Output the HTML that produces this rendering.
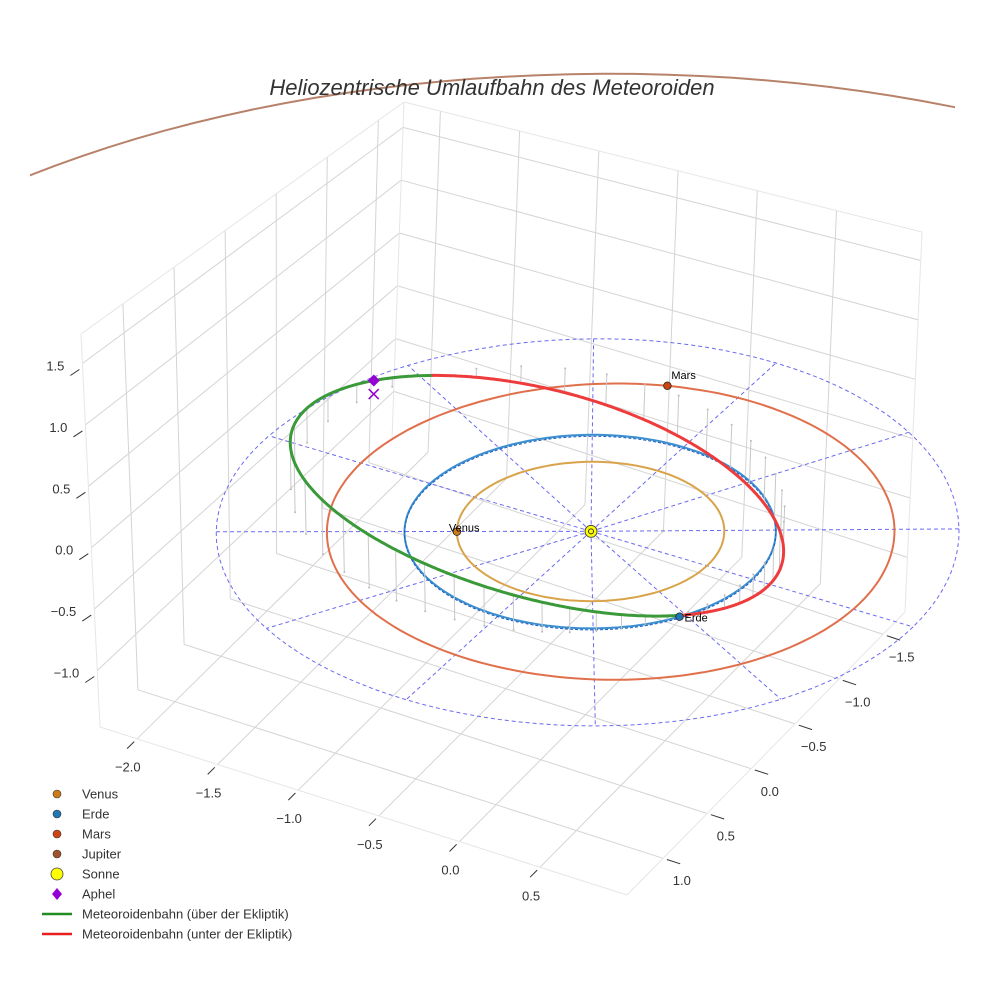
<!DOCTYPE html>
<html><head><meta charset="utf-8">
<style>
html,body{margin:0;padding:0;background:#fff;overflow:hidden;}
svg{display:block;font-family:"Liberation Sans",sans-serif;}
</style></head>
<body>
<svg id="chart" width="984" height="984" viewBox="0 0 984 984" xmlns="http://www.w3.org/2000/svg">
<defs><clipPath id="jclip"><rect x="30" y="0" width="925" height="300"/></clipPath></defs>
<g id="grid"></g>
<g id="orbits"></g>
<g id="marks"></g>
<text x="492" y="95" text-anchor="middle" font-size="22" font-style="italic" fill="#333">Heliozentrische Umlaufbahn des Meteoroiden</text>
<g id="legend"></g>
</svg>
<script>
// ---- data ----
const xTicks = [-2.0, -1.5, -1.0, -0.5, 0.0, 0.5];
const yTicks = [1.0, 0.5, 0.0, -0.5, -1.0, -1.5];
const zTicks = [1.5, 1.0, 0.5, 0.0, -0.5, -1.0];
const planetNames = ["Venus", "Erde", "Mars", "Jupiter"];
const planetRadii = [0.72, 1.0, 1.53, 5.2];
const planetAngles = [150, 32, 251, 100];
const orbitCenterX = [0, 0, 0.10, 0];
const orbitCenterY = [0, 0, -0.06, 0];
const planetColors = ["#cc7a1a", "#1f77b4", "#cc4411", "#a0522d"];
const orbitColors = ["#d9a34a", "#3a8fd0", "#e0704c", "#b8826a"];
const meteorA = [1.42];
const meteorE = [0.31];
const meteorIncl = [18];
const meteorNode = [32];
const meteorPeri = [-12];
const refRings = [2.0];
const refSpokes = [0, 30, 60, 90, 120, 150, 180, 210, 240, 270, 300, 330];

// ---- axis / projection ----
const X0=-2.23, X1=1.04, Y0=-1.75, Y1=1.41, Z0=-1.46, Z1=1.74;
const B=[392,440], L=[100,727], R=[905,612], F=[627,895];
const TB=[404,102], TL=[81,334], TR=[922,232], TF=[627,482];
function lerp(a,b,t){return [a[0]+(b[0]-a[0])*t, a[1]+(b[1]-a[1])*t];}
function P(x,y,z){
  const fx=(x-X0)/(X1-X0), fy=(y-Y0)/(Y1-Y0), fz=(z-Z0)/(Z1-Z0);
  const fl=lerp(lerp(B,R,fx), lerp(L,F,fx), fy);
  const tp=lerp(lerp(TB,TR,fx), lerp(TL,TF,fx), fy);
  return lerp(fl,tp,fz);
}
function Q(x,y,z){const p=P(x,y,z); return [p[0]+4, p[1]-6];}
const S=Q(0,0,0), EX=Q(1,0,0), EY=Q(0,1,0);
function Pfar(x,y){
  const ox=x*(EX[0]-S[0])+y*(EY[0]-S[0]);
  const oy=x*(EX[1]-S[1])+y*(EY[1]-S[1]);
  return [S[0]+14+ox*0.967, S[1]+14+oy*0.937];
}
const NS="http://www.w3.org/2000/svg";
function el(tag, attrs, parent){
  const e=document.createElementNS(NS,tag);
  for(const k in attrs) e.setAttribute(k, attrs[k]);
  parent.appendChild(e); return e;
}
function line(p,q,stroke,w,parent,dash){
  const a={x1:p[0].toFixed(1),y1:p[1].toFixed(1),x2:q[0].toFixed(1),y2:q[1].toFixed(1),stroke:stroke,'stroke-width':w};
  if(dash) a['stroke-dasharray']=dash;
  return el('line',a,parent);
}
const grid=document.getElementById('grid');
const GC="#d4d4d4";
xTicks.forEach(v=>{const l=line(P(v,Y0,Z0),P(v,Y1,Z0),GC,1,grid);

});
yTicks.forEach(v=>{const l=line(P(X0,v,Z0),P(X1,v,Z0),GC,1,grid);

});
yTicks.forEach(v=>{const l=line(P(X0,v,Z0),P(X0,v,Z1),GC,1,grid);

});
zTicks.forEach(v=>{const l=line(P(X0,Y0,v),P(X0,Y1,v),GC,1,grid);

});
xTicks.forEach(v=>{const l=line(P(v,Y0,Z0),P(v,Y0,Z1),GC,1,grid);

});
zTicks.forEach(v=>{const l=line(P(X0,Y0,v),P(X1,Y0,v),GC,1,grid);

});
[[P(X0,Y1,Z0),P(X1,Y1,Z0)],[P(X1,Y1,Z0),P(X1,Y0,Z0)],[P(X0,Y1,Z0),P(X0,Y1,Z1)],[P(X1,Y0,Z0),P(X1,Y0,Z1)],
 [P(X0,Y1,Z1),P(X0,Y0,Z1)],[P(X0,Y0,Z1),P(X1,Y0,Z1)],[P(X0,Y0,Z0),P(X0,Y0,Z1)]].forEach(e=>{
 const l=line(e[0],e[1],"#e6e6e6",1,grid);
 
 });
function tickLabel(txt,p,parent,anchor){
  const t=el('text',{x:p[0].toFixed(1),y:p[1].toFixed(1),'font-size':13,fill:'#333','text-anchor':anchor||'middle'},parent);
  t.textContent=txt; return t;
}
xTicks.forEach(v=>{
  const a=P(v,Y1,Z0), d=[a[0]-P(v,Y0,Z0)[0], a[1]-P(v,Y0,Z0)[1]];
  const n=Math.hypot(d[0],d[1]); const u=[d[0]/n,d[1]/n];
  const l=line([a[0]+u[0]*4,a[1]+u[1]*4],[a[0]+u[0]*14,a[1]+u[1]*14],"#333",1,grid);
  
  
  const t=tickLabel(v.toFixed(1).replace('-','−'),[a[0]+u[0]*34+15,a[1]+u[1]*34+9],grid);
  
  
});
yTicks.forEach(v=>{
  const a=P(X1,v,Z0), b=P(X0,v,Z0); const d=[a[0]-b[0],a[1]-b[1]];
  const n=Math.hypot(d[0],d[1]); const u=[d[0]/n,d[1]/n];
  const l=line([a[0]+u[0]*4,a[1]+u[1]*4],[a[0]+u[0]*18,a[1]+u[1]*18],"#333",1,grid);
  
  
  const t=tickLabel(v.toFixed(1).replace('-','−'),[a[0]+u[0]*26-6,a[1]+u[1]*26+19],grid);
  
  
});
zTicks.forEach(v=>{
  const a=P(X0,Y1,v);
  const l=line([a[0]-3,a[1]+6],[a[0]-12,a[1]+12],"#333",1,grid);
  
  
  const t=tickLabel(v.toFixed(1).replace('-','−'),[a[0]-18,a[1]+7],grid,'end');
  
  
});

// ---- orbits ----
const orb=document.getElementById('orbits');
function pathFrom(pts){return pts.map((p,i)=>(i?'L':'M')+p[0].toFixed(1)+' '+p[1].toFixed(1)).join(' ');}
refRings.forEach(r=>{
  const pts=[];for(let k=0;k<=360;k+=3){const a=k*Math.PI/180;pts.push(Q(r*Math.cos(a),r*Math.sin(a),0));}
  const p=el('path',{d:pathFrom(pts),fill:'none',stroke:'#6a6af0','stroke-width':1,'stroke-dasharray':'4,3'},orb);
  
  
  refSpokes.forEach(ang=>{
    const a=ang*Math.PI/180;
    const l=line(Q(0,0,0),Q(r*Math.cos(a),r*Math.sin(a),0),'#6a6af0',1,orb,'4,3');
    
    
  });
});
function drawOrbit(pts,i){
  if(pts.length<2) return;
  const p=el('path',{d:pathFrom(pts),fill:'none',stroke:orbitColors[i],'stroke-width':2},orb);
  
  
  if(i===3) p.setAttribute('clip-path','url(#jclip)');
  if(i===1){
    const p2=el('path',{d:pathFrom(pts),fill:'none',stroke:'#1f5fc0','stroke-width':1,'stroke-dasharray':'3,2',transform:'translate(0,1.5)'},orb);
    
    
  }
}
planetRadii.forEach((r,i)=>{
  const pts=[];
  for(let k=0;k<=360;k+=2){const a=k*Math.PI/180;
    const px=orbitCenterX[i]+r*Math.cos(a), py=orbitCenterY[i]+r*Math.sin(a);
    if(i===3){const q=Pfar(px,py); if(q[1]<300) pts.push(q); else if(pts.length){ drawOrbit(pts.slice(),i); pts.length=0; } }
    else pts.push(Q(px,py,0));}
  drawOrbit(pts,i);
});
const D=Math.PI/180;
function meteor(nu){
  const a=meteorA[0],e=meteorE[0],inc=meteorIncl[0]*D,Om=meteorNode[0]*D,w=meteorPeri[0]*D;
  const r=a*(1-e*e)/(1+e*Math.cos(nu)); const u=w+nu;
  return [r*(Math.cos(Om)*Math.cos(u)-Math.sin(Om)*Math.sin(u)*Math.cos(inc)),
          r*(Math.sin(Om)*Math.cos(u)+Math.cos(Om)*Math.sin(u)*Math.cos(inc)),
          r*Math.sin(u)*Math.sin(inc)];
}
for(let k=0;k<360;k+=8){
  const q=meteor(k*D); const a=Q(q[0],q[1],q[2]), b=Q(q[0],q[1],0);
  const l=line(a,b,'#c8c8c8',1,orb);
  
  
  const c=el('circle',{cx:b[0].toFixed(1),cy:b[1].toFixed(1),r:1,fill:'#bbb'},orb);
  
  
}
let segs=[],cur=null,curUp=null;
for(let k=0;k<=720;k++){
  const q=meteor(k*0.5*D); const up=q[2]>=0; const p=Q(q[0],q[1],q[2]);
  if(up!==curUp){ if(cur) cur.pts.push(p); cur={up:up,pts:[p]}; segs.push(cur); curUp=up; }
  else cur.pts.push(p);
}
segs.forEach(s=>{
  const p=el('path',{d:pathFrom(s.pts),fill:'none',stroke:s.up?'#3a9a3a':'#ee3b3b','stroke-width':3,'stroke-linecap':'round'},orb);
  
  
});

// ---- markers ----
const mk=document.getElementById('marks');
planetNames.forEach((n,i)=>{
  if(i===3) return;
  const a=planetAngles[i]*D;
  const p=Q(orbitCenterX[i]+planetRadii[i]*Math.cos(a),orbitCenterY[i]+planetRadii[i]*Math.sin(a),0);
  const c=el('circle',{cx:p[0].toFixed(1),cy:p[1].toFixed(1),r:3.8,fill:planetColors[i],stroke:'#222','stroke-width':0.8},mk);
  
  
  const off = i===2?[4,-7]:(i===1?[5,5]:[-8,0]);
  const t=el('text',{x:(p[0]+off[0]).toFixed(1),y:(p[1]+off[1]).toFixed(1),'font-size':11,fill:'#000'},mk);
  t.textContent=n;
  
  
});
const sun=el('circle',{cx:S[0],cy:S[1],r:6,fill:'#ffff00',stroke:'#444','stroke-width':1},mk);


const sun2=el('circle',{cx:S[0],cy:S[1],r:2.5,fill:'none',stroke:'#333','stroke-width':1},mk);


const aq=meteor(Math.PI); const ap=Q(aq[0],aq[1],aq[2]); const ap0=Q(aq[0],aq[1],0);
const dia=el('path',{d:`M${ap[0]} ${ap[1]-6}L${ap[0]+6} ${ap[1]}L${ap[0]} ${ap[1]+6}L${ap[0]-6} ${ap[1]}Z`,fill:'#9400d3'},mk);


const xm=el('path',{d:`M${ap0[0]-5} ${ap0[1]-5}L${ap0[0]+5} ${ap0[1]+5}M${ap0[0]+5} ${ap0[1]-5}L${ap0[0]-5} ${ap0[1]+5}`,stroke:'#9400d3','stroke-width':1.5},mk);



// ---- legend ----
const lg=document.getElementById('legend');
const legendItems=[["Venus","#cc7a1a","dot"],["Erde","#1f77b4","dot"],["Mars","#cc4411","dot"],["Jupiter","#a0522d","dot"],
 ["Sonne","#ffff00","sun"],["Aphel","#9400d3","dia"],["Meteoroidenbahn (über der Ekliptik)","#228b22","line"],["Meteoroidenbahn (unter der Ekliptik)","#e82020","line"]];
legendItems.forEach((it,i)=>{
  const y=794+i*20;
  const g=el('g',{},lg);
  
  
  if(it[2]==='dot') el('circle',{cx:57,cy:y,r:4,fill:it[1],stroke:'#333','stroke-width':0.6},g);
  else if(it[2]==='sun') el('circle',{cx:57,cy:y,r:6,fill:it[1],stroke:'#444','stroke-width':0.8},g);
  else if(it[2]==='dia') el('path',{d:`M57 ${y-6}L62 ${y}L57 ${y+6}L52 ${y}Z`,fill:it[1]},g);
  else el('line',{x1:42,y1:y,x2:72,y2:y,stroke:it[1],'stroke-width':2.5},g);
  const t=el('text',{x:82,y:y+4.5,'font-size':13,fill:'#333'},g);
  t.textContent=it[0];
});
</script>
</body></html>
